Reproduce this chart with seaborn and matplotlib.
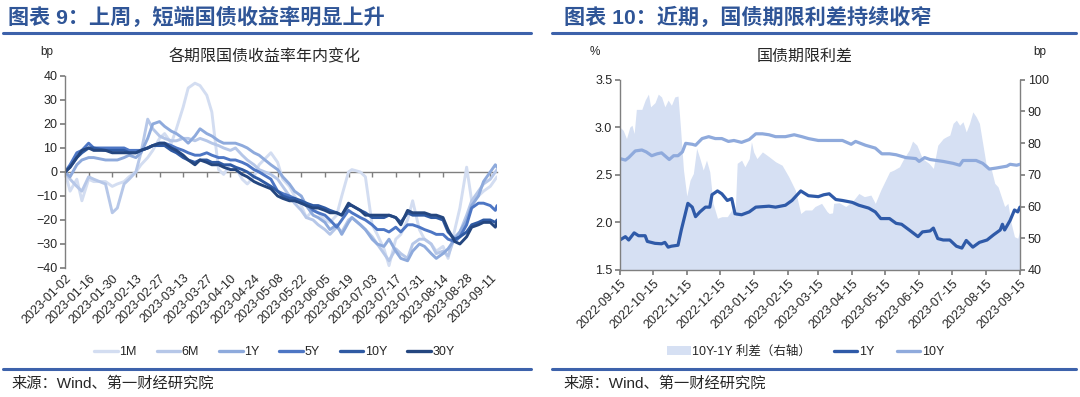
import pandas as pd
import matplotlib
matplotlib.use('Agg')
import matplotlib.pyplot as plt
import matplotlib.dates as mdates
from matplotlib.lines import Line2D
from matplotlib.patches import Patch
import seaborn as sns

# ---------------- data: left chart (bp change since 2023-01-02) ----------------
LEFT_DATES = [
    "2023-01-02", "2023-01-05", "2023-01-09", "2023-01-12", "2023-01-16", "2023-01-19", "2023-01-26", "2023-01-30",
    "2023-02-02", "2023-02-06", "2023-02-09", "2023-02-13", "2023-02-16", "2023-02-20", "2023-02-23", "2023-02-27",
    "2023-03-02", "2023-03-06", "2023-03-09", "2023-03-13", "2023-03-16", "2023-03-20", "2023-03-23", "2023-03-27", "2023-03-30",
    "2023-04-03", "2023-04-06", "2023-04-10", "2023-04-13", "2023-04-17", "2023-04-20", "2023-04-24", "2023-04-27",
    "2023-05-04", "2023-05-08", "2023-05-11", "2023-05-15", "2023-05-18", "2023-05-22", "2023-05-25", "2023-05-29",
    "2023-06-01", "2023-06-05", "2023-06-08", "2023-06-12", "2023-06-15", "2023-06-19", "2023-06-21", "2023-06-26", "2023-06-29",
    "2023-07-03", "2023-07-06", "2023-07-10", "2023-07-13", "2023-07-17", "2023-07-20", "2023-07-24", "2023-07-27", "2023-07-31",
    "2023-08-03", "2023-08-07", "2023-08-10", "2023-08-14", "2023-08-17", "2023-08-21", "2023-08-24", "2023-08-28", "2023-08-31",
    "2023-09-04", "2023-09-07", "2023-09-11", "2023-09-14", "2023-09-15",
]
M1 = [0, -8, -3, -12, -3, -4, -4, -6,
      -5, -4, -2, 0, 3, 6, 9, 14,
      16, 12, 18, 27, 35, 37, 36, 32, 25,
      1, -1, 3, 2, -3, -5, -2, 3,
      8, 4, -3, -6, -10, -14, -19, -16,
      -17, -20, -21, -18, -10, 0, 1, 0, -2,
      -22, -26, -32, -39, -28, -26, -20, -12, -24,
      -28, -30, -33, -31, -36, -24, -15, 2, -12,
      -10, -8, -6, -3, -2]
M6 = [0, -3, -6, -8, -2, -3, -5, -17,
      -15, -5, -3, 0, 8, 22, 18, 15,
      14, 13, 13, 14, 14, 13, 14, 13, 12,
      11, 10, 9, 10, 7, 5, 3, 1,
      -1, -3, -6, -10, -13, -16, -19, -20,
      -22, -24, -26, -23, -25, -20, -19, -22, -24,
      -27, -30, -34, -37, -32, -34, -36, -30, -28,
      -28, -30, -34, -33, -35, -27, -25, -18, -12,
      -8, -5, -3, 0, 1]
Y1 = [0, -2, 3, 5, 6, 6, 5, 5,
      5, 6, 7, 6, 8, 14, 20, 21,
      19, 17, 16, 14, 12, 15, 18, 16, 15,
      13, 12, 12, 12, 11, 10, 8, 7,
      3, 1, -2, -5, -8, -10, -14, -18,
      -19, -21, -24, -22, -26, -21, -19, -22, -24,
      -28, -30, -31, -28, -33, -36, -37, -33, -30,
      -31, -34, -36, -34, -32, -28, -25, -20, -14,
      -10, -4, 0, 3, 2]
Y5 = [0, 3, 8, 9, 12, 10, 10, 10,
      10, 10, 9, 9, 9, 10, 11, 12,
      12, 11, 10, 9, 8, 7, 7, 8, 7,
      6, 6, 5, 5, 4, 3, 1, 0,
      -3, -8, -9, -10, -11, -13, -13, -16,
      -17, -18, -20, -23, -20, -16, -17, -19, -20,
      -22, -24, -24, -25, -23, -25, -22, -22, -23,
      -24, -25, -26, -26, -28, -29, -27, -22, -15,
      -13, -13, -14, -16, -14]
Y10 = [0, 2, 6, 8, 10, 10, 9, 9,
       9, 9, 8, 8, 9, 10, 11, 11,
       11, 9, 8, 6, 5, 4, 5, 5, 4,
       4, 3, 3, 2, 1, 0, -2, -3,
       -6, -8, -10, -11, -11, -12, -13, -14,
       -14, -15, -16, -17, -18, -14, -14, -16, -17,
       -19, -19, -19, -18, -19, -21, -17, -18, -18,
       -18, -19, -19, -20, -25, -28, -27, -25, -22,
       -21, -20, -20, -21, -20]
Y30 = [0, 2, 6, 9, 10, 9, 9, 8,
       8, 8, 8, 8, 9, 10, 11, 12,
       12, 10, 9, 7, 5, 3, 5, 4, 3,
       3, 2, 1, 1, -1, -2, -4, -5,
       -7, -10, -11, -12, -12, -13, -14, -15,
       -15, -16, -17, -17, -18, -13, -14, -16, -18,
       -18, -18, -18, -18, -19, -22, -16, -17, -17,
       -17, -18, -18, -19, -24, -29, -30, -27, -23,
       -22, -21, -21, -23, -21]
TENORS = ["1M", "6M", "1Y", "5Y", "10Y", "30Y"]
LEFT_COLORS = ["#d3ddf1", "#b6c7e8", "#8eaadc", "#4d76c4", "#2f5aa3", "#24467f"]

# ---------------- data: right chart ----------------
CGB1Y_DATES = [
    "2022-09-15", "2022-09-20", "2022-09-23", "2022-09-28", "2022-10-02", "2022-10-08", "2022-10-10", "2022-10-17",
    "2022-10-23", "2022-10-26", "2022-10-29", "2022-11-01", "2022-11-07", "2022-11-10", "2022-11-13", "2022-11-16",
    "2022-11-20", "2022-11-23", "2022-11-27", "2022-12-02", "2022-12-06", "2022-12-08", "2022-12-13", "2022-12-17",
    "2022-12-22", "2022-12-26", "2022-12-29", "2023-01-04", "2023-01-11", "2023-01-17", "2023-01-29", "2023-02-04",
    "2023-02-13", "2023-02-19", "2023-02-27", "2023-03-06", "2023-03-15", "2023-03-20", "2023-03-25", "2023-03-31",
    "2023-04-06", "2023-04-15", "2023-04-21", "2023-04-30", "2023-05-06", "2023-05-11", "2023-05-19", "2023-05-25",
    "2023-05-30", "2023-06-06", "2023-06-14", "2023-06-18", "2023-06-25", "2023-06-28", "2023-07-02", "2023-07-07",
    "2023-07-13", "2023-07-19", "2023-07-24", "2023-07-28", "2023-08-03", "2023-08-09", "2023-08-16", "2023-08-22",
    "2023-08-28", "2023-08-30", "2023-09-01", "2023-09-06", "2023-09-10", "2023-09-13", "2023-09-15",
]
CGB1Y = [1.815, 1.85, 1.815, 1.89, 1.86, 1.86, 1.80, 1.78,
         1.775, 1.79, 1.74, 1.75, 1.76, 1.92, 2.06, 2.20,
         2.16, 2.06, 2.11, 2.16, 2.16, 2.29, 2.33, 2.30,
         2.23, 2.25, 2.09, 2.08, 2.11, 2.16, 2.17, 2.16,
         2.18, 2.23, 2.33, 2.28, 2.27, 2.29, 2.30, 2.24,
         2.23, 2.21, 2.18, 2.15, 2.11, 2.04, 2.04, 1.99,
         1.98, 1.92, 1.85, 1.90, 1.91, 1.94, 1.83, 1.815,
         1.815, 1.75, 1.73, 1.81, 1.74, 1.79, 1.815, 1.87,
         1.92, 1.98, 1.92, 2.02, 2.13, 2.11, 2.16]

CGB10Y_DATES = [
    "2022-09-15", "2022-09-20", "2022-09-23", "2022-09-29", "2022-10-05", "2022-10-09", "2022-10-14", "2022-10-19",
    "2022-10-23", "2022-10-26", "2022-10-30", "2022-11-03", "2022-11-07", "2022-11-11", "2022-11-14", "2022-11-20",
    "2022-11-23", "2022-11-29", "2022-12-05", "2022-12-11", "2022-12-17", "2022-12-23", "2022-12-28", "2023-01-04",
    "2023-01-11", "2023-01-17", "2023-01-23", "2023-01-29", "2023-02-04", "2023-02-13", "2023-02-21", "2023-02-28",
    "2023-03-06", "2023-03-15", "2023-03-25", "2023-04-06", "2023-04-14", "2023-04-18", "2023-04-27", "2023-05-06",
    "2023-05-12", "2023-05-19", "2023-05-25", "2023-06-03", "2023-06-12", "2023-06-15", "2023-06-20", "2023-06-25",
    "2023-07-01", "2023-07-07", "2023-07-16", "2023-07-22", "2023-07-25", "2023-07-31", "2023-08-06", "2023-08-12",
    "2023-08-18", "2023-08-24", "2023-08-29", "2023-09-03", "2023-09-06", "2023-09-12", "2023-09-15",
]
CGB10Y = [2.67, 2.654, 2.68, 2.75, 2.76, 2.74, 2.70, 2.72,
          2.73, 2.70, 2.66, 2.70, 2.70, 2.74, 2.83, 2.82,
          2.81, 2.88, 2.90, 2.88, 2.88, 2.85, 2.86, 2.84,
          2.87, 2.93, 2.93, 2.92, 2.90, 2.90, 2.92, 2.90,
          2.88, 2.86, 2.86, 2.86, 2.82, 2.85, 2.81, 2.78,
          2.72, 2.72, 2.71, 2.68, 2.67, 2.64, 2.68, 2.66,
          2.65, 2.64, 2.62, 2.60, 2.65, 2.65, 2.65, 2.62,
          2.56, 2.57, 2.58, 2.59, 2.61, 2.60, 2.61]

SPREAD_DATES = [
    "2022-09-15", "2022-09-18", "2022-09-21", "2022-09-24", "2022-09-26", "2022-09-28", "2022-09-30", "2022-10-05",
    "2022-10-08", "2022-10-11", "2022-10-13", "2022-10-17", "2022-10-20", "2022-10-23", "2022-10-26", "2022-10-29",
    "2022-11-01", "2022-11-04", "2022-11-07", "2022-11-09", "2022-11-12", "2022-11-15", "2022-11-18", "2022-11-21",
    "2022-11-24", "2022-11-27", "2022-11-30", "2022-12-03", "2022-12-06", "2022-12-09", "2022-12-13", "2022-12-17",
    "2022-12-22", "2022-12-26", "2022-12-29", "2022-12-31", "2023-01-04", "2023-01-07", "2023-01-11", "2023-01-13",
    "2023-01-15", "2023-01-18", "2023-01-23", "2023-01-29", "2023-02-04", "2023-02-10", "2023-02-16", "2023-02-22",
    "2023-02-27", "2023-03-03", "2023-03-09", "2023-03-12", "2023-03-18", "2023-03-23", "2023-03-25", "2023-03-28",
    "2023-03-29", "2023-04-03", "2023-04-09", "2023-04-15", "2023-04-21", "2023-04-26", "2023-05-02", "2023-05-06",
    "2023-05-11", "2023-05-19", "2023-05-23", "2023-05-28", "2023-06-01", "2023-06-06", "2023-06-09", "2023-06-13",
    "2023-06-18", "2023-06-24", "2023-06-28", "2023-07-02", "2023-07-07", "2023-07-10", "2023-07-13", "2023-07-16",
    "2023-07-19", "2023-07-22", "2023-07-25", "2023-07-28", "2023-07-31", "2023-08-03", "2023-08-06", "2023-08-09",
    "2023-08-12", "2023-08-15", "2023-08-20", "2023-08-23", "2023-08-26", "2023-08-29", "2023-09-01", "2023-09-04",
    "2023-09-07", "2023-09-10", "2023-09-13", "2023-09-15",
]
SPREAD_BP = [85, 84, 81.4, 85, 85.6, 83, 90.6, 90.6,
             93.5, 95.4, 91.4, 92.7, 95.4, 94.5, 91.4, 93.5,
             91.9, 94.5, 94.8, 86, 71.5, 63.3, 68.3, 70.4,
             78.3, 75.1, 71.5, 74.6, 70.9, 61, 56.3, 56.8,
             56.8, 58.9, 56.8, 73.6, 74.6, 72.5, 75.1, 80.4,
             77.2, 75.1, 77.2, 75.7, 74.1, 73, 69.4, 65.2,
             57.8, 58.9, 58.9, 60, 61, 58.4, 57.8, 58,
             61, 61.2, 60, 61.5, 64.1, 63.1, 63.6, 61,
             65.2, 70.9, 71.5, 72.5, 75.1, 77.8, 80.6, 79.3,
             75.1, 73.6, 72, 79.3, 81.4, 82, 82.5, 86.2,
             87.2, 85.6, 86.7, 83.5, 86.2, 89.8, 88.3, 86.2,
             79.9, 73.6, 71.5, 67.3, 66.2, 63.1, 60, 61,
             54.7, 50.5, 50, 52.6]

HEAD_BLUE = "#2f5597"
RULE_BLUE = "#3d62ab"
GRAY = "#7f7f7f"
TICK_SIZE = 9

sns.set_theme(style="white")
plt.rcParams['font.family'] = ['Liberation Sans', 'Noto Sans CJK SC', 'DejaVu Sans']
plt.rcParams['axes.unicode_minus'] = True

fig = plt.figure(figsize=(10.8, 3.97), dpi=100)

# ---------------- left chart ----------------
ax1 = fig.add_axes([0.0602, 0.325, 0.400, 0.4836])
df_left = pd.DataFrame({"date": pd.to_datetime(LEFT_DATES), "1M": M1, "6M": M6, "1Y": Y1,
                        "5Y": Y5, "10Y": Y10, "30Y": Y30})
df_left = df_left.melt("date", var_name="tenor", value_name="bp")
sns.lineplot(data=df_left, x="date", y="bp", hue="tenor", hue_order=TENORS,
             palette=LEFT_COLORS, linewidth=2.1, ax=ax1, legend=False)

ax1.set_xlim(pd.Timestamp("2023-01-02"), pd.Timestamp("2023-09-15"))
ax1.set_ylim(-40, 40)
ax1.set_yticks(range(-40, 41, 10))
left_ticks = pd.date_range("2023-01-02", "2023-09-11", freq="14D")
ax1.set_xticks(left_ticks)
ax1.set_xticklabels([t.strftime("%Y-%m-%d") for t in left_ticks], rotation=45,
                    ha="right", rotation_mode="anchor")
ax1.set_xlabel("")
ax1.set_ylabel("")
for s in ["top", "right", "bottom"]:
    ax1.spines[s].set_visible(False)
ax1.spines["left"].set_color(GRAY)
ax1.spines["left"].set_linewidth(1.0)
ax1.tick_params(axis="y", direction="out", length=3.5, color=GRAY, labelsize=TICK_SIZE, pad=2, left=True)
ax1.tick_params(axis="x", length=0, labelsize=TICK_SIZE, pad=3)

# zero axis line with its own ticks
zero_ax = ax1.secondary_xaxis(0, transform=ax1.transData)
zero_ax.set_xticks(mdates.date2num(left_ticks))
zero_ax.tick_params(axis="x", direction="out", length=3.5, color=GRAY, width=1.0,
                    labelbottom=False, labeltop=False)
for s in zero_ax.spines.values():
    s.set_color(GRAY)
    s.set_linewidth(1.0)

fig.text(0.037, 0.87, "bp", fontsize=8.5, ha="left", va="center")
fig.text(0.245, 0.857, "各期限国债收益率年内变化", fontsize=11.5, ha="center", va="center")

left_handles = [Line2D([0], [0], color=c, lw=2.4) for c in LEFT_COLORS]
fig.legend(left_handles, TENORS, loc="center", bbox_to_anchor=(0.254, 0.113), ncol=6,
           frameon=False, fontsize=9, handlelength=1.9, handletextpad=0.1, columnspacing=1.6)

# ---------------- right chart ----------------
ax2 = fig.add_axes([0.574, 0.3199, 0.3704, 0.4798])
ax2r = ax2.twinx()
ax2r.fill_between(pd.to_datetime(SPREAD_DATES), SPREAD_BP, 40, color="#d6e0f3", lw=0)
ax2r.set_ylim(40, 100)
ax2r.set_yticks(range(40, 101, 10))
ax2.set_zorder(ax2r.get_zorder() + 1)
ax2.patch.set_visible(False)

sns.lineplot(x=pd.to_datetime(CGB10Y_DATES), y=CGB10Y, color="#8faadc", linewidth=2.3, ax=ax2)
sns.lineplot(x=pd.to_datetime(CGB1Y_DATES), y=CGB1Y, color="#2f5aa8", linewidth=2.3, ax=ax2)

ax2.set_xlim(pd.Timestamp("2022-09-15"), pd.Timestamp("2023-09-15"))
ax2.set_ylim(1.5, 3.5)
ax2.set_yticks([1.5, 2.0, 2.5, 3.0, 3.5])
ax2.set_yticklabels(["1.5", "2.0", "2.5", "3.0", "3.5"])
right_ticks = [pd.Timestamp("2022-09-15") + pd.DateOffset(months=k) for k in range(13)]
ax2.set_xticks(right_ticks)
ax2.set_xticklabels([t.strftime("%Y-%m-%d") for t in right_ticks], rotation=45,
                    ha="right", rotation_mode="anchor")
ax2.set_xlabel("")
ax2.set_ylabel("")
for a in (ax2, ax2r):
    a.spines["top"].set_visible(False)
    for s in ["left", "right", "bottom"]:
        a.spines[s].set_color(GRAY)
        a.spines[s].set_linewidth(1.0)
ax2.spines["right"].set_visible(False)
ax2r.spines["left"].set_visible(False)
ax2r.spines["bottom"].set_visible(False)
ax2.tick_params(axis="y", direction="out", length=3.5, color=GRAY, labelsize=TICK_SIZE, pad=2, left=True)
ax2.tick_params(axis="x", direction="out", length=3.5, color=GRAY, labelsize=TICK_SIZE, pad=2, bottom=True)
ax2r.tick_params(axis="y", direction="out", length=3.5, color=GRAY, labelsize=TICK_SIZE, pad=2, right=True)

fig.text(0.551, 0.87, "%", fontsize=8.5, ha="center", va="center")
fig.text(0.963, 0.87, "bp", fontsize=8.5, ha="center", va="center")
fig.text(0.745, 0.857, "国债期限利差", fontsize=11.5, ha="center", va="center")

right_handles = [Patch(facecolor="#d6e0f3", edgecolor="none"),
                 Line2D([0], [0], color="#2f5aa8", lw=2.4),
                 Line2D([0], [0], color="#8faadc", lw=2.4)]
fig.legend(right_handles, ["10Y-1Y 利差（右轴）", "1Y", "10Y"], loc="center",
           bbox_to_anchor=(0.746, 0.113), ncol=3, frameon=False, fontsize=9,
           handlelength=1.9, handletextpad=0.1, columnspacing=1.8)

# ---------------- headers, rules and sources ----------------
fig.text(0.007, 0.956, "图表 9：上周，短端国债收益率明显上升", fontsize=15.2, fontweight="bold",
         color=HEAD_BLUE, ha="left", va="center")
fig.text(0.522, 0.956, "图表 10：近期，国债期限利差持续收窄", fontsize=15.2, fontweight="bold",
         color=HEAD_BLUE, ha="left", va="center")
for x0, x1 in [(0.003, 0.492), (0.511, 0.996)]:
    fig.add_artist(Line2D([x0, x1], [0.917, 0.917], transform=fig.transFigure, color=RULE_BLUE, lw=2.2))
    fig.add_artist(Line2D([x0, x1], [0.071, 0.071], transform=fig.transFigure, color=RULE_BLUE, lw=2.2))
fig.text(0.011, 0.033, "来源：Wind、第一财经研究院", fontsize=11, ha="left", va="center")
fig.text(0.522, 0.033, "来源：Wind、第一财经研究院", fontsize=11, ha="left", va="center")

fig.savefig("out.png", dpi=100)
